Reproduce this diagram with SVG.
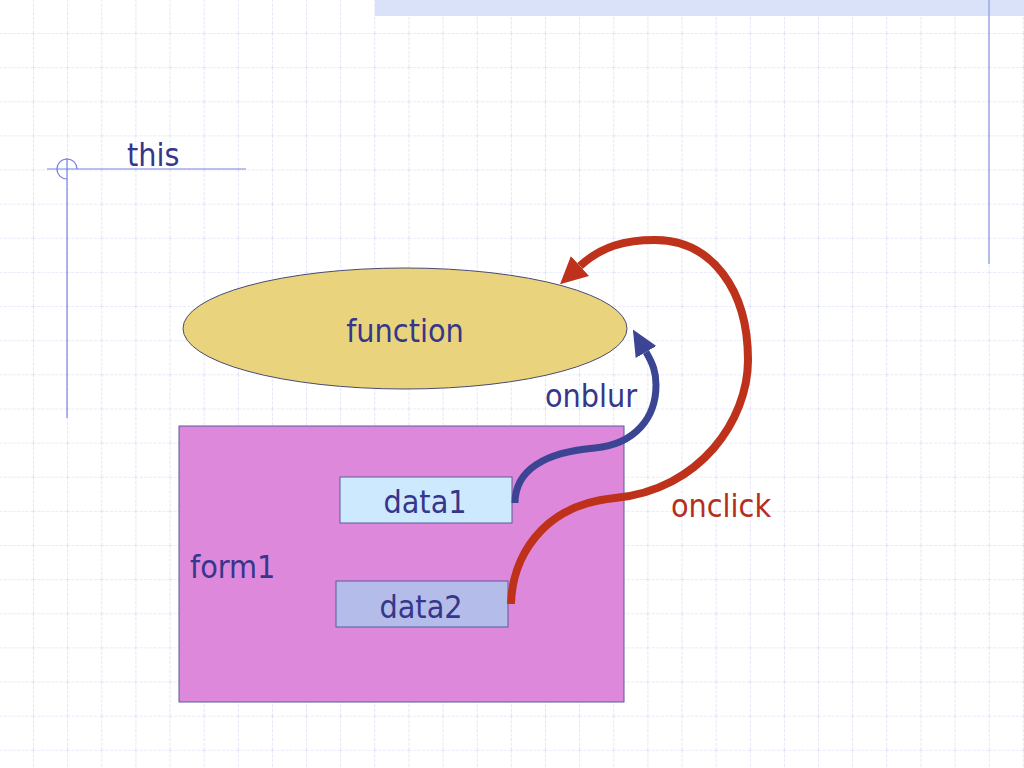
<svg xmlns="http://www.w3.org/2000/svg" width="1024" height="768" viewBox="0 0 1024 768">
<style>
.t{font-family:"DejaVu Sans Condensed","DejaVu Sans",sans-serif;font-stretch:condensed;font-size:32px;fill:#36368a}
.red{fill:#b52e1c}
.deco{stroke:#7684e0;stroke-width:1.2;fill:none}
.box{stroke:#5b5b9c;stroke-width:1}
</style>
<defs>
<pattern id="grid" patternUnits="userSpaceOnUse" x="33" y="33" width="34.133" height="34.133">
<path d="M0 0 H34.133 M0 0 V34.133" stroke="#d0d5f2" stroke-width="1.2" stroke-dasharray="3 1.5" fill="none"/>
</pattern>
<marker id="ahBlue" viewBox="0 0 24 22" refX="0" refY="11" markerUnits="userSpaceOnUse" markerWidth="26" markerHeight="24" orient="auto">
<path d="M0 0 L24 11 L0 22 Z" fill="#3c4494"/>
</marker>
<marker id="ahRed" viewBox="0 0 24 24" refX="0" refY="12" markerUnits="userSpaceOnUse" markerWidth="27" markerHeight="27" orient="auto">
<path d="M0 0 L24 12 L0 24 Z" fill="#be321b"/>
</marker>
</defs>
<rect width="1024" height="768" fill="#ffffff"/>
<rect width="1024" height="768" fill="url(#grid)"/>
<rect x="375" y="0" width="649" height="16" fill="#dae2f9"/>
<line x1="989" y1="0" x2="989" y2="264" stroke="#9aa8e6" stroke-width="1.5"/>
<g id="bullet">
<line class="deco" x1="47" y1="169" x2="246" y2="169"/>
<line class="deco" x1="67" y1="158" x2="67" y2="418"/>
<path class="deco" d="M77 169 A10 10 0 1 0 67 179"/>
<text class="t" x="127" y="166">this</text>
</g>
<g id="function">
<ellipse cx="405" cy="328.5" rx="222" ry="60.5" fill="#e9d47d" stroke="#4a4a72" stroke-width="1"/>
<text class="t" x="405" y="342" text-anchor="middle">function</text>
</g>
<g id="form1">
<rect class="box" x="179" y="426" width="445" height="276" fill="#de88dc"/>
<text class="t" x="190" y="578">form1</text>
</g>
<g id="data1">
<rect class="box" x="340" y="477" width="172" height="46" fill="#cde9fe"/>
<text class="t" x="425" y="513" text-anchor="middle">data1</text>
</g>
<g id="data2">
<rect class="box" x="336" y="581" width="172" height="46" fill="#b4bde9"/>
<text class="t" x="421" y="618" text-anchor="middle">data2</text>
</g>
<g id="connectors">
<path d="M515 503 C515 470 545 452 595 448 C635 444 656 418 656 385 C656 372 653 364 646 352" fill="none" stroke="#3c4494" stroke-width="7" marker-end="url(#ahBlue)"/>
<path d="M511 604 C512 560 540 505 615 498 C700 490 748 420 748 360 C748 290 712 240 655 240 C625 240 602 246 580 266" fill="none" stroke="#be321b" stroke-width="8" marker-end="url(#ahRed)"/>
<text class="t" x="591" y="407" text-anchor="middle">onblur</text>
<text class="t red" x="721" y="517" text-anchor="middle">onclick</text>
</g>
</svg>
